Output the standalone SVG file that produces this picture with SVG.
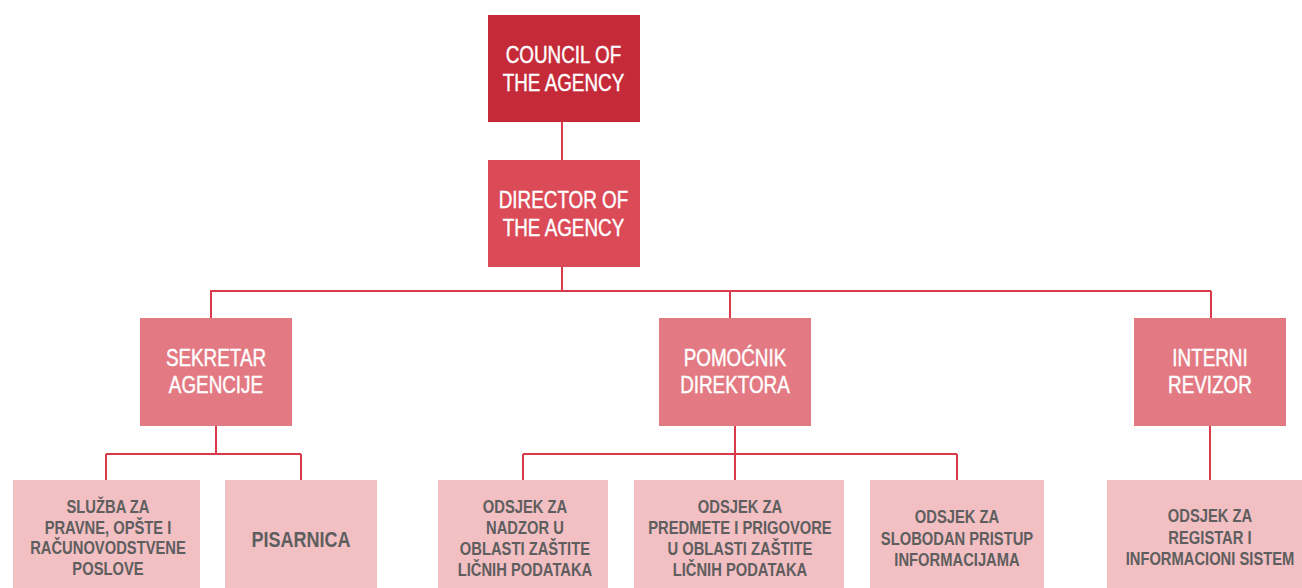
<svg xmlns="http://www.w3.org/2000/svg" width="1302" height="588" viewBox="0 0 1302 588">
<style>
.t{font-family:"Liberation Sans",Arial,sans-serif;text-anchor:middle}
.w{fill:#ffffff;font-size:23px;stroke:#ffffff;stroke-width:0.4}
.g{fill:#5e5e5e;font-size:18px;font-weight:bold}
.c{fill:none;stroke:#d93a4a;stroke-width:2}
.l2{fill:#e37a83}
.l3{fill:#f2bfc3}
</style>
<rect width="1302" height="588" fill="#ffffff"/>
<g id="connectors" class="c">
<path d="M562 122V160M562 267V291M210 291H1211M211 291V318M730 291V318M1211 291V318"/>
<path d="M216 426V454M106 454H301M106 454V480M301 454V480"/>
<path d="M735 426V480M523 454H957M523 454V480M957 454V480"/>
<path d="M1210 426V480"/>
</g>
<g id="council"><rect x="488" y="15" width="152" height="107" fill="#c52a39"/>
<g transform="scale(0.82 1)"><text class="t w" x="687.2" y="63">COUNCIL OF</text><text class="t w" x="687.2" y="91">THE AGENCY</text></g></g>
<g id="director"><rect x="488" y="160" width="152" height="107" fill="#db4b57"/>
<g transform="scale(0.82 1)"><text class="t w" x="687.2" y="208">DIRECTOR OF</text><text class="t w" x="687.2" y="236">THE AGENCY</text></g></g>
<g id="sekretar"><rect class="l2" x="140" y="318" width="152" height="108"/>
<g transform="scale(0.82 1)"><text class="t w" x="263.4" y="366">SEKRETAR</text><text class="t w" x="263.4" y="393">AGENCIJE</text></g></g>
<g id="pomocnik"><rect class="l2" x="659" y="318" width="152" height="108"/>
<g transform="scale(0.82 1)"><text class="t w" x="896.3" y="366">POMOĆNIK</text><text class="t w" x="896.3" y="393">DIREKTORA</text></g></g>
<g id="interni"><rect class="l2" x="1134" y="318" width="152" height="108"/>
<g transform="scale(0.82 1)"><text class="t w" x="1475.6" y="366">INTERNI</text><text class="t w" x="1475.6" y="393">REVIZOR</text></g></g>
<g id="sluzba"><rect class="l3" x="13" y="480" width="187" height="108"/>
<g transform="scale(0.82 1)"><text class="t g" x="131.7" y="513">SLUŽBA ZA</text><text class="t g" x="131.7" y="534">PRAVNE, OPŠTE I</text><text class="t g" x="131.7" y="554">RAČUNOVODSTVENE</text><text class="t g" x="131.7" y="575">POSLOVE</text></g></g>
<g id="pisarnica"><rect class="l3" x="225" y="480" width="152" height="108"/>
<g transform="scale(0.82 1)"><text class="t g" x="367.1" y="547" style="font-size:22px">PISARNICA</text></g></g>
<g id="nadzor"><rect class="l3" x="438" y="480" width="170" height="108"/>
<g transform="scale(0.82 1)"><text class="t g" x="640.2" y="513">ODSJEK ZA</text><text class="t g" x="640.2" y="534">NADZOR U</text><text class="t g" x="640.2" y="555">OBLASTI ZAŠTITE</text><text class="t g" x="640.2" y="576">LIČNIH PODATAKA</text></g></g>
<g id="predmete"><rect class="l3" x="634" y="480" width="210" height="108"/>
<g transform="scale(0.82 1)"><text class="t g" x="902.4" y="513">ODSJEK ZA</text><text class="t g" x="902.4" y="534">PREDMETE I PRIGOVORE</text><text class="t g" x="902.4" y="555">U OBLASTI ZAŠTITE</text><text class="t g" x="902.4" y="576">LIČNIH PODATAKA</text></g></g>
<g id="slobodan"><rect class="l3" x="870" y="480" width="174" height="108"/>
<g transform="scale(0.82 1)"><text class="t g" x="1167.1" y="523">ODSJEK ZA</text><text class="t g" x="1167.1" y="545">SLOBODAN PRISTUP</text><text class="t g" x="1167.1" y="566">INFORMACIJAMA</text></g></g>
<g id="registar"><rect class="l3" x="1107" y="480" width="195" height="108"/>
<g transform="scale(0.82 1)"><text class="t g" x="1475.6" y="522">ODSJEK ZA</text><text class="t g" x="1475.6" y="544">REGISTAR I</text><text class="t g" x="1475.6" y="565">INFORMACIONI SISTEM</text></g></g>
</svg>
